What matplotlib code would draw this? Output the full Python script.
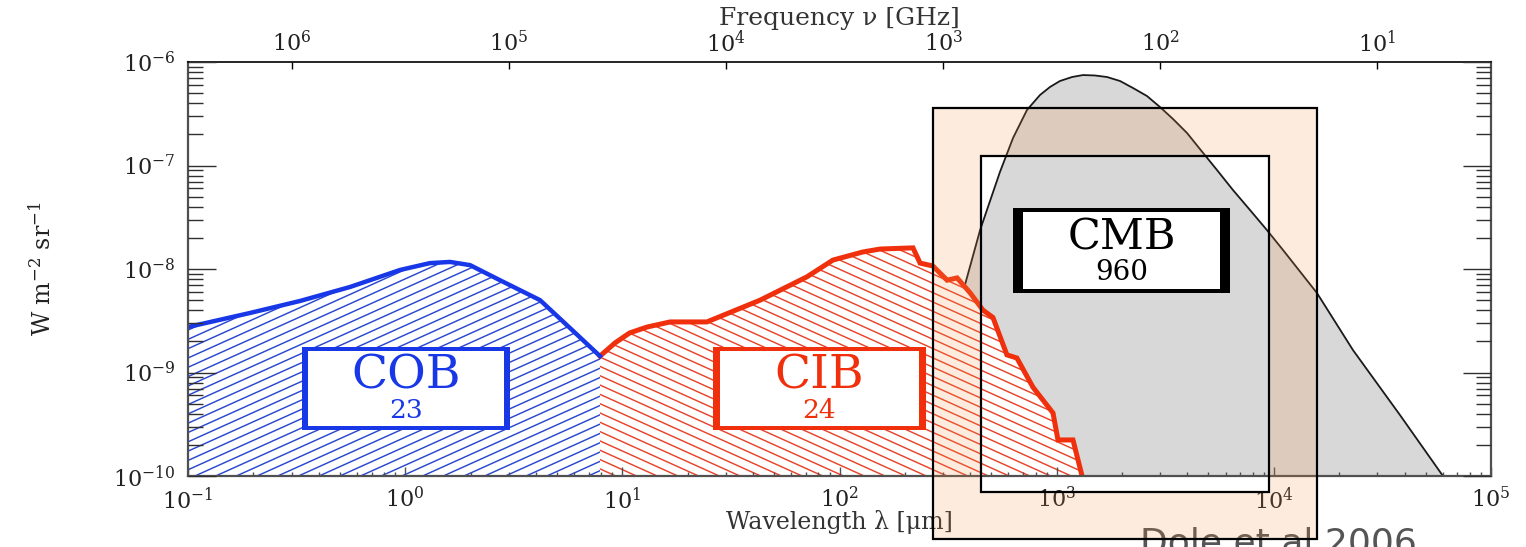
import numpy as np
import matplotlib
matplotlib.use("Agg")
import matplotlib.pyplot as plt
from matplotlib.patches import Rectangle
from matplotlib.collections import LineCollection
from matplotlib.ticker import LogLocator, NullLocator, NullFormatter, FixedLocator

plt.rcParams['font.family'] = ['DejaVu Serif', 'DejaVu Sans']
plt.rcParams['mathtext.fontset'] = 'dejavuserif'

# COB (optical background), wavelength in micron, nu I_nu in W m^-2 sr^-1
cob_wl = [0.100, 0.193, 0.328, 0.557, 0.946, 1.30, 1.61, 1.99, 2.73, 4.18, 5.74, 7.89]
cob_val = [2.75e-9, 3.76e-9, 4.91e-9, 6.70e-9, 9.78e-9, 1.14e-8, 1.17e-8, 1.09e-8,
           7.8e-9, 5.0e-9, 2.69e-9, 1.44e-9]

# CIB (infrared background)
cib_wl = [7.89, 9.25, 10.8, 13.0, 16.6, 24.5, 43.1, 70.8, 93.3, 128, 154, 218, 235,
          269, 313, 348, 399, 458, 509, 590, 656, 778, 962, 1014, 1189, 1309]
cib_val = [1.44e-9, 1.93e-9, 2.41e-9, 2.75e-9, 3.08e-9, 3.08e-9, 5.0e-9, 8.4e-9,
           1.22e-8, 1.46e-8, 1.56e-8, 1.60e-8, 1.14e-8, 1.07e-8, 7.8e-9, 8.2e-9,
           5.9e-9, 4.0e-9, 3.4e-9, 1.48e-9, 1.38e-9, 7.2e-10, 4.06e-10, 2.23e-10,
           2.23e-10, 1.0e-10]

# CMB
cmb_wl = [290, 340, 378, 444, 548, 630, 730, 838, 931, 1035, 1177, 1322, 1500, 1706,
          1959, 2245, 2606, 2992, 3436, 3984, 4571, 5470, 6482, 7762, 9290, 11010,
          15800, 23130, 38100, 60100]
cmb_val = [1e-10, 8.5e-10, 7.0e-9, 2.38e-8, 8.65e-8, 1.85e-7, 3.44e-7, 4.80e-7, 5.73e-7,
           6.55e-7, 7.16e-7, 7.48e-7, 7.41e-7, 7.16e-7, 6.55e-7, 5.61e-7, 4.69e-7,
           3.67e-7, 2.81e-7, 2.06e-7, 1.44e-7, 9.06e-8, 5.80e-8, 3.72e-8, 2.38e-8,
           1.53e-8, 5.86e-9, 1.65e-9, 3.88e-10, 1.0e-10]

labels = [("COB", "23"), ("CIB", "24"), ("CMB", "960")]
wl_ticks = [1e-1, 1e0, 1e1, 1e2, 1e3, 1e4, 1e5]
freq_ticks = [1e6, 1e5, 1e4, 1e3, 1e2, 1e1]
y_ticks = [1e-10, 1e-9, 1e-8, 1e-7, 1e-6]

W, H = 1526, 547
fig = plt.figure(figsize=(W / 100, H / 100), dpi=100)
ax = fig.add_axes([188 / W, 1 - 476 / H, 1303 / W, 414 / H])
ax.set_xscale('log')
ax.set_yscale('log')
ax.set_xlim(0.1, 1e5)
ax.set_ylim(1e-10, 1e-6)

blue = '#1838e8'
red = '#f0300c'
floor = 1e-10


def hatch(poly, color, slope, spacing, zorder):
    # shallow diagonal hatch lines, clipped to the filled region
    segs = []
    k = slope * 1303 / 414
    for c in np.arange(-3, 4, spacing):
        segs.append([(0, c), (1, c + k)])
    lc = LineCollection(segs, colors=color, linewidths=1.05, transform=ax.transAxes,
                        zorder=zorder)
    lc.set_clip_path(poly.get_paths()[0], ax.transData)
    ax.add_collection(lc)


# CMB grey body
ax.fill_between(cmb_wl, cmb_val, floor, facecolor='#d8d8d8', edgecolor='none', zorder=1)
ax.plot(cmb_wl, cmb_val, color='#1a1a1a', lw=1.3, zorder=1.1)

# CIB
p = ax.fill_between(cib_wl, cib_val, floor, facecolor='white', edgecolor='none', zorder=1.5)
hatch(p, '#e8442c', -0.45, 0.0225, 1.6)
ax.plot(cib_wl, cib_val, color=red, lw=3.6, zorder=1.8, solid_joinstyle='miter')

# COB
p = ax.fill_between(cob_wl, cob_val, floor, facecolor='white', edgecolor='none', zorder=1.5)
hatch(p, '#2a48d0', 0.45, 0.0225, 1.6)
ax.plot(cob_wl, cob_val, color=blue, lw=3.2, zorder=1.8)


def label_box(x0, y0, x1, y1, tw, color, big, small, bsize, ssize, ty1, ty2):
    # pixel coordinates -> axes fraction
    fx = lambda px: (px - 188) / 1303
    fy = lambda py: (476 - py) / 414
    ax.add_patch(Rectangle((fx(x0), fy(y1)), fx(x1) - fx(x0), fy(y0) - fy(y1),
                           transform=ax.transAxes, facecolor=color, edgecolor='none', zorder=5))
    ax.add_patch(Rectangle((fx(x0 + tw[0]), fy(y1 - tw[1])), fx(x1 - tw[0]) - fx(x0 + tw[0]),
                           fy(y0 + tw[1]) - fy(y1 - tw[1]),
                           transform=ax.transAxes, facecolor='white', edgecolor='none', zorder=5.1))
    cx = fx((x0 + x1) / 2)
    ax.text(cx, fy(ty1), big, transform=ax.transAxes, ha='center', va='center',
            color=color, fontsize=bsize, zorder=6)
    ax.text(cx, fy(ty2), small, transform=ax.transAxes, ha='center', va='center',
            color=color, fontsize=ssize, zorder=6)


label_box(302, 347, 510, 430, (6, 4), blue, labels[0][0], labels[0][1], 34, 19, 376, 411)
label_box(713, 347, 926, 430, (7, 4), red, labels[1][0], labels[1][1], 34, 19, 376, 411)
label_box(1013, 208, 1230, 293, (10, 4), 'black', labels[2][0], labels[2][1], 31, 20, 237, 272)

# axes styling
for s in ['left', 'right', 'bottom']:
    ax.spines[s].set_color('#505050')
    ax.spines[s].set_linewidth(1.6)
ax.spines['top'].set_color('black')
ax.spines['top'].set_linewidth(1.2)
for a in [ax.spines[s] for s in ax.spines] + [ax.xaxis, ax.yaxis]:
    a.set_zorder(8)

ax.xaxis.set_major_locator(FixedLocator(wl_ticks))
ax.xaxis.set_minor_locator(LogLocator(base=10, subs=np.arange(2, 10), numticks=20))
ax.yaxis.set_major_locator(FixedLocator(y_ticks))
ax.yaxis.set_minor_locator(LogLocator(base=10, subs=np.arange(2, 10), numticks=20))
ax.xaxis.set_minor_formatter(NullFormatter())
ax.yaxis.set_minor_formatter(NullFormatter())

ax.tick_params(axis='x', which='major', direction='in', length=6.5, width=1.0,
               top=False, labelsize=16, pad=8, colors='#505050', labelcolor='#222222')
ax.tick_params(axis='x', which='minor', direction='in', length=3, width=1.0,
               top=False, colors='#505050')
ax.tick_params(axis='y', which='major', direction='in', length=20, width=1.0,
               right=True, labelsize=16, pad=9, colors='#303030', labelcolor='#222222')
ax.tick_params(axis='y', which='minor', direction='in', length=11, width=1.0,
               right=True, colors='#303030')

# frequency axis on top: nu[GHz] = c / lambda
sec = ax.secondary_xaxis('top', functions=(lambda l: 3e5 / l, lambda n: 3e5 / n))
sec.xaxis.set_major_locator(FixedLocator(freq_ticks))
sec.xaxis.set_minor_locator(NullLocator())
sec.tick_params(axis='x', which='major', direction='in', length=5, width=1.0,
                labelsize=16, pad=4, colors='black', labelcolor='#222222')
sec.spines['top'].set_visible(False)

ax.text(0.5, (476 - 18) / 414, 'Frequency \u03bd [GHz]', transform=ax.transAxes,
        ha='center', va='center', fontsize=18, color='#333333')
ax.text(0.5, (476 - 522) / 414, 'Wavelength \u03bb [\u03bcm]', transform=ax.transAxes,
        ha='center', va='center', fontsize=17, color='#333333')
ax.text((42 - 188) / 1303, 0.5, r'W m$^{-2}$ sr$^{-1}$', transform=ax.transAxes,
        ha='center', va='center', rotation=90, fontsize=17, color='#222222')

fig.text(1140 / W, 1 - 527 / H, 'Dole et al 2006', ha='left', va='top',
         fontsize=26, color='#555555', family='DejaVu Sans', zorder=0.5)

# highlight frame (outer minus inner rectangle)
ox0, oy0, ox1, oy1 = 933, 108, 1317, 539
ix0, iy0, ix1, iy1 = 981, 156, 1269, 492
strips = [(ox0, oy0, ox1, iy0), (ox0, iy1, ox1, oy1), (ox0, iy0, ix0, iy1), (ix1, iy0, ox1, iy1)]
for x0, y0, x1, y1 in strips:
    fig.add_artist(Rectangle((x0 / W, 1 - y1 / H), (x1 - x0) / W, (y1 - y0) / H,
                             transform=fig.transFigure, facecolor='#f49548', alpha=0.18,
                             edgecolor='none', zorder=20))
for x0, y0, x1, y1 in [(ox0, oy0, ox1, oy1), (ix0, iy0, ix1, iy1)]:
    fig.add_artist(Rectangle((x0 / W, 1 - y1 / H), (x1 - x0) / W, (y1 - y0) / H,
                             transform=fig.transFigure, facecolor='none',
                             edgecolor='black', lw=1.6, zorder=21))

fig.savefig('out.png', dpi=100)
